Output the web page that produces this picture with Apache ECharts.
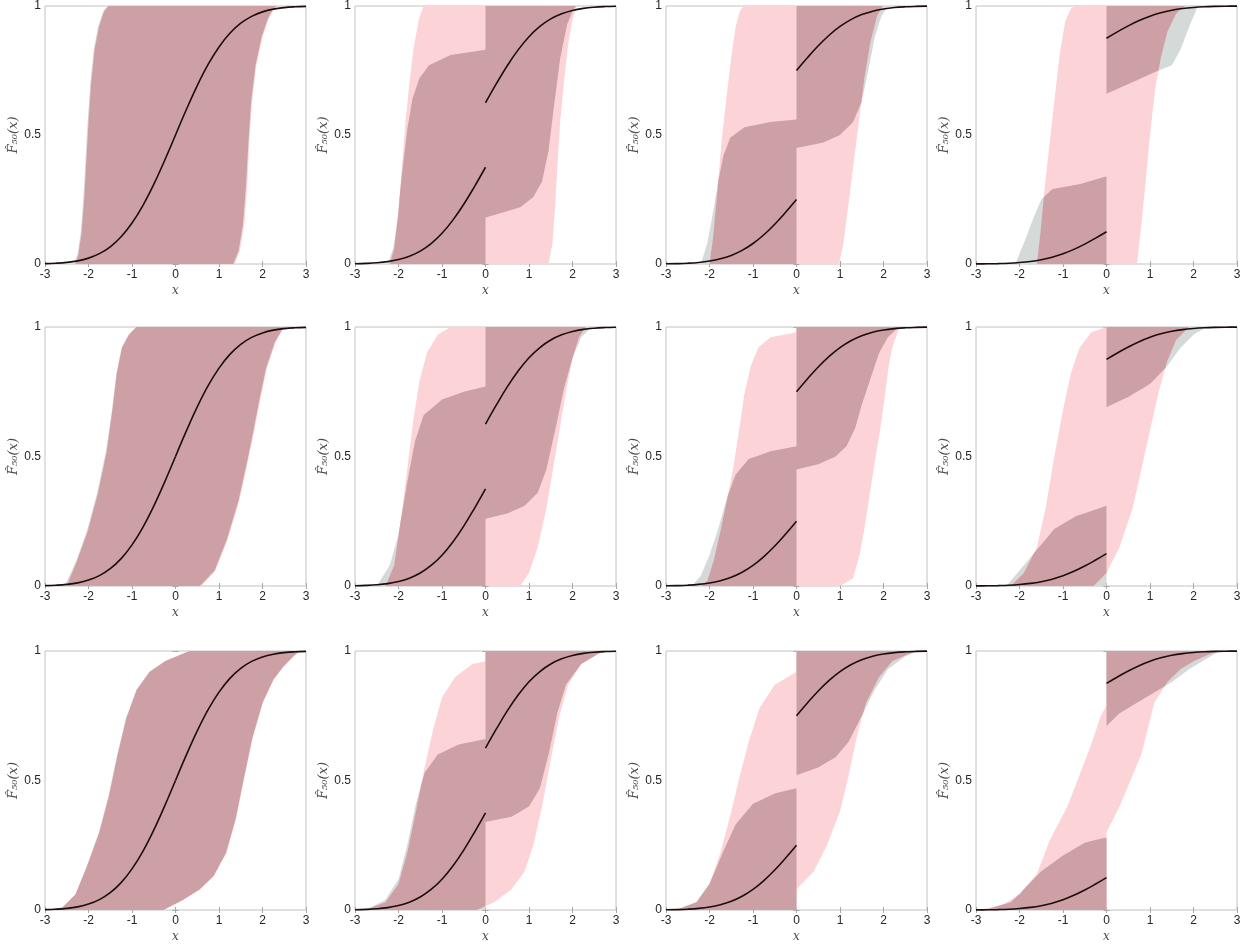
<!DOCTYPE html>
<html>
<head>
<meta charset="utf-8">
<script src="https://cdn.jsdelivr.net/npm/echarts@6/dist/echarts.min.js"></script>
<style>
html,body{margin:0;padding:0;background:#fff;}
#chart{width:1254px;height:947px;}
</style>
</head>
<body>
<div id="chart"></div>
<script>
// ---------- axis ticks ----------
const X_TICKS = [-3, -2, -1, 0, 1, 2, 3];
const Y_TICKS = [0, 0.5, 1];

// ---------- black curve, split at x = 0 ----------
const CURVE_X_LEFT  = [-3, -2.75, -2.5, -2.25, -2, -1.75, -1.5, -1.25, -1, -0.75, -0.5, -0.25, 0];
const CURVE_X_RIGHT = [0, 0.25, 0.5, 0.75, 1, 1.25, 1.5, 1.75, 2, 2.25, 2.5, 2.75, 3];
const C1_LEFT  = [0.0013,0.003,0.0062,0.0122,0.0228,0.0401,0.0668,0.1056,0.1587,0.2266,0.3085,0.4013,0.5];
const C1_RIGHT = [0.5,0.5987,0.6915,0.7734,0.8413,0.8944,0.9332,0.9599,0.9772,0.9878,0.9938,0.997,0.9987];
const C2_LEFT  = [0.001,0.0023,0.0047,0.0092,0.0171,0.0301,0.0501,0.0792,0.119,0.17,0.2314,0.301,0.375];
const C2_RIGHT = [0.625,0.699,0.7686,0.83,0.881,0.9208,0.9499,0.9699,0.9829,0.9909,0.9954,0.9978,0.999];
const C3_LEFT  = [0.0007,0.0015,0.0031,0.0061,0.0114,0.0201,0.0334,0.0528,0.0794,0.1133,0.1543,0.2007,0.25];
const C3_RIGHT = [0.75,0.7994,0.8458,0.8867,0.9207,0.9472,0.9666,0.98,0.9886,0.9939,0.9969,0.9985,0.9994];
const C4_LEFT  = [0.0003,0.0008,0.0016,0.003,0.0057,0.01,0.0167,0.0264,0.0397,0.0567,0.0771,0.1003,0.125];
const C4_RIGHT = [0.875,0.8997,0.9229,0.9434,0.9603,0.9736,0.9833,0.99,0.9943,0.997,0.9985,0.9993,0.9997];

// ---------- bands: edges as [x, y] vertices ----------
// Row 1
const R1C1_GRAY_UP = [[-3,0],[-2.33,0],[-2.25,0.04],[-2.18,0.12],[-2.12,0.25],[-2.07,0.4],[-2.02,0.55],[-1.96,0.7],[-1.88,0.83],[-1.78,0.92],[-1.66,0.98],[-1.56,1],[3,1]];
const R1C1_GRAY_LO = [[-3,0],[1.33,0],[1.45,0.05],[1.55,0.15],[1.62,0.3],[1.68,0.48],[1.74,0.63],[1.84,0.77],[1.98,0.88],[2.12,0.95],[2.25,0.99],[2.33,1],[3,1]];
const R1C1_PINK_UP = [[-3,0],[-2.3,0],[-2.23,0.04],[-2.16,0.12],[-2.1,0.25],[-2.05,0.4],[-2.0,0.55],[-1.94,0.7],[-1.86,0.83],[-1.76,0.92],[-1.64,0.98],[-1.54,1],[3,1]];
const R1C1_PINK_LO = [[-3,0],[1.36,0],[1.48,0.05],[1.58,0.15],[1.65,0.3],[1.7,0.48],[1.76,0.63],[1.86,0.77],[2.0,0.88],[2.14,0.95],[2.27,0.99],[2.35,1],[3,1]];

const R1C2_GRAY_UP = [[-3,0],[-2.25,0],[-2.12,0.06],[-2.02,0.18],[-1.92,0.35],[-1.8,0.52],[-1.68,0.64],[-1.52,0.72],[-1.3,0.77],[-0.8,0.81],[0,0.83],[0,1],[3,1]];
const R1C2_GRAY_LO = [[-3,0],[0,0],[0,0.18],[0.4,0.2],[0.8,0.22],[1.1,0.26],[1.3,0.32],[1.45,0.44],[1.58,0.62],[1.72,0.8],[1.88,0.93],[2.0,0.98],[2.08,1],[3,1]];
const R1C2_PINK_UP = [[-3,0],[-2.2,0],[-2.1,0.06],[-2.0,0.2],[-1.92,0.38],[-1.84,0.55],[-1.75,0.7],[-1.65,0.84],[-1.53,0.95],[-1.42,1],[3,1]];
const R1C2_PINK_LO = [[-3,0],[1.45,0],[1.54,0.08],[1.6,0.22],[1.66,0.4],[1.72,0.56],[1.8,0.7],[1.9,0.85],[2.0,0.95],[2.1,1],[3,1]];

const R1C3_GRAY_UP = [[-3,0],[-2.2,0],[-2.05,0.08],[-1.92,0.2],[-1.8,0.32],[-1.68,0.42],[-1.52,0.49],[-1.2,0.53],[-0.6,0.55],[0,0.56],[0,1],[3,1]];
const R1C3_GRAY_LO = [[-3,0],[0,0],[0,0.45],[0.6,0.47],[1.0,0.5],[1.3,0.55],[1.5,0.63],[1.65,0.75],[1.8,0.88],[1.95,0.96],[2.1,1],[3,1]];
const R1C3_PINK_UP = [[-3,0],[-2.0,0],[-1.92,0.1],[-1.82,0.28],[-1.72,0.48],[-1.6,0.66],[-1.5,0.8],[-1.4,0.92],[-1.3,0.98],[-1.22,1],[3,1]];
const R1C3_PINK_LO = [[-3,0],[0.98,0],[1.08,0.08],[1.2,0.24],[1.32,0.4],[1.44,0.56],[1.56,0.72],[1.7,0.86],[1.85,0.96],[1.98,1],[3,1]];

const R1C4_GRAY_UP = [[-3,0],[-2.1,0],[-1.9,0.08],[-1.7,0.17],[-1.5,0.25],[-1.25,0.29],[-0.6,0.31],[0,0.34],[0,1],[3,1]];
const R1C4_GRAY_LO = [[-3,0],[0,0],[0,0.66],[0.4,0.69],[0.8,0.72],[1.2,0.75],[1.5,0.77],[1.7,0.83],[1.9,0.92],[2.1,1],[3,1]];
const R1C4_PINK_UP = [[-3,0],[-1.6,0],[-1.52,0.12],[-1.42,0.3],[-1.3,0.48],[-1.18,0.66],[-1.07,0.82],[-0.95,0.94],[-0.82,0.99],[-0.72,1],[3,1]];
const R1C4_PINK_LO = [[-3,0],[0.7,0],[0.8,0.15],[0.9,0.32],[1.0,0.5],[1.12,0.68],[1.25,0.8],[1.4,0.9],[1.6,0.97],[1.8,1],[3,1]];

// Row 2
const R2C1_GRAY_UP = [[-3,0],[-2.55,0],[-2.3,0.09],[-2.04,0.21],[-1.8,0.36],[-1.6,0.52],[-1.46,0.68],[-1.36,0.82],[-1.24,0.92],[-1.08,0.97],[-0.9,1],[3,1]];
const R2C1_GRAY_LO = [[-3,0],[0.56,0],[0.9,0.06],[1.18,0.18],[1.45,0.33],[1.62,0.46],[1.78,0.59],[1.93,0.72],[2.08,0.84],[2.28,0.94],[2.45,0.99],[2.55,1],[3,1]];
const R2C1_PINK_UP = [[-3,0],[-2.5,0],[-2.28,0.09],[-2.02,0.21],[-1.78,0.36],[-1.58,0.52],[-1.45,0.68],[-1.35,0.82],[-1.23,0.92],[-1.07,0.97],[-0.9,1],[3,1]];
const R2C1_PINK_LO = [[-3,0],[0.6,0],[0.92,0.06],[1.2,0.18],[1.47,0.33],[1.64,0.46],[1.8,0.59],[1.95,0.72],[2.1,0.84],[2.3,0.94],[2.47,0.99],[2.57,1],[3,1]];

const R2C2_GRAY_UP = [[-3,0],[-2.5,0],[-2.2,0.08],[-2.0,0.2],[-1.8,0.4],[-1.62,0.56],[-1.42,0.66],[-1.0,0.72],[-0.5,0.75],[0,0.77],[0,1],[3,1]];
const R2C2_GRAY_LO = [[-3,0],[0,0],[0,0.26],[0.5,0.28],[0.9,0.31],[1.2,0.36],[1.4,0.45],[1.6,0.6],[1.8,0.76],[2.0,0.88],[2.2,0.96],[2.45,1],[3,1]];
const R2C2_PINK_UP = [[-3,0],[-2.3,0],[-2.1,0.08],[-1.95,0.25],[-1.8,0.45],[-1.66,0.64],[-1.52,0.79],[-1.35,0.9],[-1.1,0.97],[-0.8,1],[3,1]];
const R2C2_PINK_LO = [[-3,0],[0.8,0],[1.0,0.05],[1.2,0.15],[1.4,0.3],[1.55,0.45],[1.7,0.6],[1.85,0.75],[2.0,0.88],[2.15,0.96],[2.3,1],[3,1]];

const R2C3_GRAY_UP = [[-3,0],[-2.4,0],[-2.2,0.04],[-2.0,0.12],[-1.8,0.22],[-1.6,0.34],[-1.4,0.43],[-1.1,0.49],[-0.6,0.52],[0,0.54],[0,1],[3,1]];
const R2C3_GRAY_LO = [[-3,0],[0,0],[0,0.45],[0.5,0.47],[0.9,0.5],[1.15,0.54],[1.35,0.61],[1.5,0.7],[1.7,0.8],[1.9,0.9],[2.1,0.96],[2.35,1],[3,1]];
const R2C3_PINK_UP = [[-3,0],[-2.2,0],[-2.05,0.02],[-1.9,0.1],[-1.75,0.21],[-1.6,0.33],[-1.45,0.46],[-1.32,0.6],[-1.2,0.74],[-1.05,0.85],[-0.88,0.92],[-0.6,0.96],[0,0.98],[0,1],[3,1]];
const R2C3_PINK_LO = [[-3,0],[1.0,0],[1.3,0.03],[1.45,0.12],[1.55,0.21],[1.68,0.35],[1.8,0.48],[1.92,0.6],[2.02,0.72],[2.12,0.85],[2.2,0.92],[2.35,0.99],[2.45,1],[3,1]];

const R2C4_GRAY_UP = [[-3,0],[-2.3,0],[-2.0,0.06],[-1.6,0.14],[-1.2,0.22],[-0.7,0.27],[0,0.31],[0,1],[3,1]];
const R2C4_GRAY_LO = [[-3,0],[0,0],[0,0.69],[0.5,0.73],[1.0,0.78],[1.4,0.85],[1.7,0.92],[2.0,0.97],[2.3,1],[3,1]];
const R2C4_PINK_UP = [[-3,0],[-2.2,0],[-1.9,0.05],[-1.6,0.15],[-1.4,0.3],[-1.2,0.5],[-1.0,0.68],[-0.82,0.82],[-0.62,0.92],[-0.35,0.98],[0,1],[3,1]];
const R2C4_PINK_LO = [[-3,0],[-0.3,0],[0,0.05],[0.3,0.15],[0.6,0.3],[0.8,0.45],[1.0,0.6],[1.2,0.75],[1.4,0.87],[1.6,0.95],[1.9,1],[3,1]];

// Row 3
const R3C1_GRAY_UP = [[-3,0],[-2.6,0.01],[-2.3,0.06],[-2.04,0.17],[-1.76,0.3],[-1.54,0.44],[-1.34,0.6],[-1.14,0.74],[-0.9,0.85],[-0.6,0.92],[-0.25,0.96],[0.1,0.985],[0.33,1],[3,1]];
const R3C1_GRAY_LO = [[-3,0],[-0.28,0],[0.18,0.04],[0.56,0.08],[0.87,0.13],[1.16,0.22],[1.38,0.35],[1.56,0.5],[1.76,0.66],[2.0,0.8],[2.25,0.89],[2.48,0.94],[2.71,0.98],[2.86,1],[3,1]];
const R3C1_PINK_UP = [[-3,0],[-2.6,0.01],[-2.3,0.06],[-2.03,0.17],[-1.75,0.3],[-1.53,0.44],[-1.33,0.6],[-1.13,0.74],[-0.89,0.85],[-0.59,0.92],[-0.24,0.96],[0.1,0.985],[0.33,1],[3,1]];
const R3C1_PINK_LO = [[-3,0],[-0.26,0],[0.19,0.04],[0.57,0.08],[0.88,0.13],[1.17,0.22],[1.39,0.35],[1.57,0.5],[1.77,0.66],[2.01,0.8],[2.26,0.89],[2.49,0.94],[2.72,0.98],[2.86,1],[3,1]];

const R3C2_GRAY_UP = [[-3,0],[-2.7,0.005],[-2.3,0.04],[-2.0,0.12],[-1.8,0.25],[-1.6,0.41],[-1.4,0.53],[-1.1,0.6],[-0.6,0.64],[0,0.66],[0,1],[3,1]];
const R3C2_GRAY_LO = [[-3,0],[0,0],[0,0.34],[0.6,0.36],[1.0,0.4],[1.25,0.47],[1.45,0.6],[1.65,0.76],[1.85,0.87],[2.2,0.95],[2.6,0.99],[2.8,1],[3,1]];
const R3C2_PINK_UP = [[-3,0],[-2.7,0.005],[-2.3,0.03],[-2.0,0.1],[-1.8,0.22],[-1.6,0.38],[-1.4,0.55],[-1.2,0.7],[-1.0,0.82],[-0.7,0.9],[-0.3,0.95],[0,0.96],[0,1],[3,1]];
const R3C2_PINK_LO = [[-3,0],[-0.2,0],[0.2,0.03],[0.6,0.08],[0.9,0.15],[1.1,0.25],[1.3,0.4],[1.5,0.58],[1.7,0.75],[1.9,0.87],[2.2,0.95],[2.6,0.99],[2.8,1],[3,1]];

const R3C3_GRAY_UP = [[-3,0],[-2.7,0.005],[-2.3,0.03],[-2.0,0.1],[-1.7,0.22],[-1.4,0.33],[-1.0,0.41],[-0.5,0.45],[0,0.47],[0,1],[3,1]];
const R3C3_GRAY_LO = [[-3,0],[0,0],[0,0.52],[0.5,0.55],[0.9,0.59],[1.2,0.65],[1.5,0.75],[1.8,0.85],[2.1,0.93],[2.5,0.98],[2.8,1],[3,1]];
const R3C3_PINK_UP = [[-3,0],[-2.7,0.005],[-2.3,0.03],[-2.0,0.1],[-1.75,0.22],[-1.5,0.38],[-1.3,0.52],[-1.1,0.65],[-0.85,0.78],[-0.5,0.87],[-0.2,0.9],[0,0.92],[0,1],[3,1]];
const R3C3_PINK_LO = [[-3,0],[0,0],[0,0.08],[0.4,0.15],[0.7,0.25],[1.0,0.38],[1.2,0.52],[1.4,0.68],[1.6,0.8],[1.9,0.9],[2.2,0.96],[2.6,0.99],[2.8,1],[3,1]];

const R3C4_GRAY_UP = [[-3,0],[-2.7,0.005],[-2.2,0.03],[-1.9,0.08],[-1.5,0.15],[-1.0,0.21],[-0.5,0.26],[0,0.28],[0,1],[3,1]];
const R3C4_GRAY_LO = [[-3,0],[0,0],[0,0.71],[0.3,0.76],[0.7,0.8],[1.1,0.84],[1.5,0.88],[1.9,0.93],[2.3,0.97],[2.6,1],[3,1]];
const R3C4_PINK_UP = [[-3,0],[-2.8,0.005],[-2.4,0.02],[-2.0,0.06],[-1.6,0.14],[-1.3,0.27],[-0.9,0.4],[-0.6,0.53],[-0.35,0.64],[-0.13,0.75],[0,0.79],[0,1],[3,1]];
const R3C4_PINK_LO = [[-3,0],[0,0],[0,0.3],[0.3,0.4],[0.55,0.5],[0.8,0.6],[0.95,0.7],[1.1,0.8],[1.4,0.88],[1.7,0.93],[2.0,0.96],[2.4,0.99],[2.7,1],[3,1]];

// ---------- panel table ----------
const PANELS = [
  [R1C1_GRAY_UP,R1C1_GRAY_LO,R1C1_PINK_UP,R1C1_PINK_LO,C1_LEFT,C1_RIGHT],
  [R1C2_GRAY_UP,R1C2_GRAY_LO,R1C2_PINK_UP,R1C2_PINK_LO,C2_LEFT,C2_RIGHT],
  [R1C3_GRAY_UP,R1C3_GRAY_LO,R1C3_PINK_UP,R1C3_PINK_LO,C3_LEFT,C3_RIGHT],
  [R1C4_GRAY_UP,R1C4_GRAY_LO,R1C4_PINK_UP,R1C4_PINK_LO,C4_LEFT,C4_RIGHT],
  [R2C1_GRAY_UP,R2C1_GRAY_LO,R2C1_PINK_UP,R2C1_PINK_LO,C1_LEFT,C1_RIGHT],
  [R2C2_GRAY_UP,R2C2_GRAY_LO,R2C2_PINK_UP,R2C2_PINK_LO,C2_LEFT,C2_RIGHT],
  [R2C3_GRAY_UP,R2C3_GRAY_LO,R2C3_PINK_UP,R2C3_PINK_LO,C3_LEFT,C3_RIGHT],
  [R2C4_GRAY_UP,R2C4_GRAY_LO,R2C4_PINK_UP,R2C4_PINK_LO,C4_LEFT,C4_RIGHT],
  [R3C1_GRAY_UP,R3C1_GRAY_LO,R3C1_PINK_UP,R3C1_PINK_LO,C1_LEFT,C1_RIGHT],
  [R3C2_GRAY_UP,R3C2_GRAY_LO,R3C2_PINK_UP,R3C2_PINK_LO,C2_LEFT,C2_RIGHT],
  [R3C3_GRAY_UP,R3C3_GRAY_LO,R3C3_PINK_UP,R3C3_PINK_LO,C3_LEFT,C3_RIGHT],
  [R3C4_GRAY_UP,R3C4_GRAY_LO,R3C4_PINK_UP,R3C4_PINK_LO,C4_LEFT,C4_RIGHT]
];

// ---------- styling ----------
const COL_GRAY = '#d4dad7';
const COL_PINK = '#fcd4d7';
const COL_BOTH = '#cda0a6';
const GRID_LEFT = [45, 355, 666, 976];
const GRID_TOP = [5, 327, 651];
const GRID_W = 261, GRID_H = 259;

// ---------- geometry helpers ----------
function edgeAt(pts, x, side) {
  const n = pts.length;
  if (side < 0) {
    if (x <= pts[0][0]) return pts[0][1];
    for (let i = 0; i < n - 1; i++) {
      const a = pts[i], b = pts[i + 1];
      if (a[0] < x && x <= b[0]) return a[1] + (b[1] - a[1]) * (x - a[0]) / (b[0] - a[0]);
    }
    return pts[n - 1][1];
  } else {
    if (x >= pts[n - 1][0]) return pts[n - 1][1];
    for (let i = n - 2; i >= 0; i--) {
      const a = pts[i], b = pts[i + 1];
      if (a[0] <= x && x < b[0]) return a[1] + (b[1] - a[1]) * (x - a[0]) / (b[0] - a[0]);
    }
    return pts[0][1];
  }
}
function bandPolygon(up, lo) {
  return up.concat(lo.slice().reverse());
}
function overlapPolygon(gU, gL, pU, pL) {
  const edges = [gU, gL, pU, pL];
  const xsSet = new Set();
  edges.forEach(e => e.forEach(p => xsSet.add(p[0])));
  const xs = Array.from(xsSet).sort((a, b) => a - b);
  const pairs = [[0, 2], [1, 3], [0, 1], [0, 3], [2, 1], [2, 3]];
  const upper = [], lower = [];
  for (let k = 0; k < xs.length - 1; k++) {
    const a = xs[k], b = xs[k + 1];
    const fa = edges.map(e => edgeAt(e, a, 1));
    const fb = edges.map(e => edgeAt(e, b, -1));
    const ts = [0, 1];
    pairs.forEach(([i, j]) => {
      const d0 = fa[i] - fa[j], d1 = fb[i] - fb[j];
      if (d0 * d1 < 0) ts.push(d0 / (d0 - d1));
    });
    ts.sort((p, q) => p - q);
    ts.forEach(t => {
      const v = fa.map((y, i) => y + t * (fb[i] - y));
      const x = a + t * (b - a);
      const l = Math.max(v[1], v[3]);
      const h = Math.max(l, Math.min(v[0], v[2]));
      upper.push([x, h]);
      lower.push([x, l]);
    });
  }
  return upper.concat(lower.reverse());
}

// ---------- build option ----------
const grids = [], xAxes = [], yAxes = [], series = [];
const TICK_STYLE = { show: true, inside: true, length: 3, lineStyle: { color: '#a8a8a8' } };
const LABEL_STYLE = { color: '#262626', fontSize: 12, fontFamily: 'Liberation Sans, Arial, sans-serif' };
const NAME_STYLE = { fontFamily: 'DejaVu Serif, serif', fontStyle: 'italic', fontSize: 12, color: '#4d4d4d' };
const YNAME_STYLE = { fontFamily: 'DejaVu Serif, serif', fontStyle: 'italic', fontSize: 13, color: '#4d4d4d' };

PANELS.forEach((p, idx) => {
  const r = Math.floor(idx / 4), c = idx % 4;
  grids.push({
    left: GRID_LEFT[c], top: GRID_TOP[r], width: GRID_W, height: GRID_H,
    show: true, borderColor: '#c2c2c2', borderWidth: 1, backgroundColor: 'transparent'
  });
  const xRange = { min: X_TICKS[0], max: X_TICKS[X_TICKS.length - 1], interval: 1 };
  const yRange = { min: Y_TICKS[0], max: Y_TICKS[Y_TICKS.length - 1], interval: 0.5 };
  xAxes.push(Object.assign({
    gridIndex: idx, type: 'value', position: 'bottom',
    axisLine: { show: false }, axisTick: TICK_STYLE, splitLine: { show: false },
    axisLabel: Object.assign({ margin: 5 }, LABEL_STYLE),
    name: 'x', nameLocation: 'middle', nameGap: 21, nameTextStyle: NAME_STYLE
  }, xRange));
  xAxes.push(Object.assign({
    gridIndex: idx, type: 'value', position: 'top',
    axisLine: { show: false }, axisTick: TICK_STYLE, splitLine: { show: false },
    axisLabel: { show: false }
  }, xRange));
  yAxes.push(Object.assign({
    gridIndex: idx, type: 'value', position: 'left',
    axisLine: { show: false }, axisTick: TICK_STYLE, splitLine: { show: false },
    axisLabel: Object.assign({ margin: 4 }, LABEL_STYLE),
    name: 'F\u0302\u2085\u2080(x)', nameLocation: 'middle', nameGap: 22, nameRotate: 90,
    nameTextStyle: YNAME_STYLE
  }, yRange));
  yAxes.push(Object.assign({
    gridIndex: idx, type: 'value', position: 'right',
    axisLine: { show: false }, axisTick: TICK_STYLE, splitLine: { show: false },
    axisLabel: { show: false }
  }, yRange));

  const xi = 2 * idx, yi = 2 * idx;
  const [gU, gL, pU, pL, cl, cr] = p;
  const polys = [
    { pts: bandPolygon(gU, gL), fill: COL_GRAY },
    { pts: bandPolygon(pU, pL), fill: COL_PINK },
    { pts: overlapPolygon(gU, gL, pU, pL), fill: COL_BOTH }
  ];
  series.push({
    type: 'custom', xAxisIndex: xi, yAxisIndex: yi, z: 1, silent: true,
    data: [[0, 0]],
    renderItem: function (params, api) {
      return {
        type: 'group',
        children: polys.map(pg => ({
          type: 'polygon',
          shape: { points: pg.pts.map(q => api.coord(q)) },
          style: { fill: pg.fill, stroke: null }
        }))
      };
    }
  });
  [[CURVE_X_LEFT, cl], [CURVE_X_RIGHT, cr]].forEach(([xs, ys]) => {
    series.push({
      type: 'line', xAxisIndex: xi, yAxisIndex: yi, z: 3, silent: true,
      showSymbol: false, smooth: 0.4, clip: false,
      lineStyle: { color: '#1c0d0d', width: 1.6 },
      data: xs.map((x, i) => [x, ys[i]])
    });
  });
});

const chart = echarts.init(document.getElementById('chart'), null, { renderer: 'canvas' });
chart.setOption({
  animation: false,
  backgroundColor: '#ffffff',
  grid: grids, xAxis: xAxes, yAxis: yAxes, series: series
});
</script>
</body>
</html>
